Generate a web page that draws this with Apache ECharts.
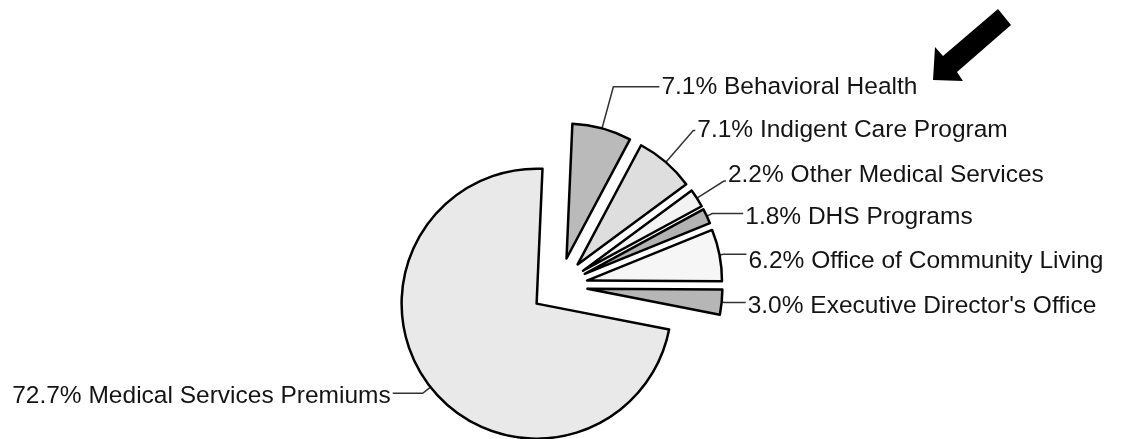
<!DOCTYPE html>
<html>
<head>
<meta charset="utf-8">
<title>Budget share by line item</title>
<script src="https://cdn.jsdelivr.net/npm/echarts@6/dist/echarts.min.js"></script>
<style>
  html, body { margin: 0; padding: 0; background: #fff; }
  #chart { width: 1137px; height: 439px; }
</style>
</head>
<body>
<div id="chart"></div>
<script>
// slice order runs counter-clockwise from 12 o'clock
const names = [
  'Medical Services Premiums',
  "Executive Director's Office",
  'Office of Community Living',
  'DHS Programs',
  'Other Medical Services',
  'Indigent Care Program',
  'Behavioral Health'
]
const shares = [72.7, 3.0, 6.2, 1.8, 2.2, 7.1, 7.1]
const fills = ['#e9e9e9', '#b6b6b6', '#f6f6f6', '#b3b3b3', '#f3f3f3', '#dedede', '#bababa']
// leader line lengths per slice: [radial, horizontal]
const leaders = [[10, 30], [3, 21], [4, 23], [6, 31], [32, 2], [42, 2], [43, 46]]
// small vertical nudge of each label off its leader end
const labelNudge = [3, 4, 7, 4, -6, 0, 0]

const chart = echarts.init(document.getElementById('chart'), null, { renderer: 'canvas' })

const border = { borderColor: '#000', borderWidth: 2.5 }

const data = names.map((name, i) => ({
  name,
  value: shares[i],
  selected: true,
  itemStyle: { color: fills[i], ...border },
  select: { itemStyle: { color: fills[i], ...border } },
  labelLine: { length: leaders[i][0], length2: leaders[i][1] }
}))

chart.setOption({
  animation: false,
  series: [{
    type: 'pie',
    center: [559, 286],
    radius: 135,
    startAngle: 87.5,
    clockwise: false,
    selectedMode: 'multiple',
    selectedOffset: 28.5,
    avoidLabelOverlap: false,
    emphasis: { disabled: true },
    label: {
      show: true,
      position: 'outside',
      distanceToLabelLine: 2,
      formatter: p => p.value.toFixed(1) + '% ' + p.name,
      fontFamily: '"Liberation Sans", Arial, sans-serif',
      fontSize: 24.5,
      color: '#141414'
    },
    labelLine: {
      show: true,
      smooth: false,
      lineStyle: { color: '#333', width: 1.5 }
    },
    labelLayout: p => ({ dy: labelNudge[p.dataIndex] }),
    data
  }],
  graphic: [{
    type: 'polygon',
    shape: {
      points: [[998, 9], [943, 56], [935, 47], [933, 80], [963, 81], [957, 72], [1011, 25]]
    },
    style: { fill: '#000' }
  }]
})

window.addEventListener('resize', () => chart.resize())
</script>
</body>
</html>
